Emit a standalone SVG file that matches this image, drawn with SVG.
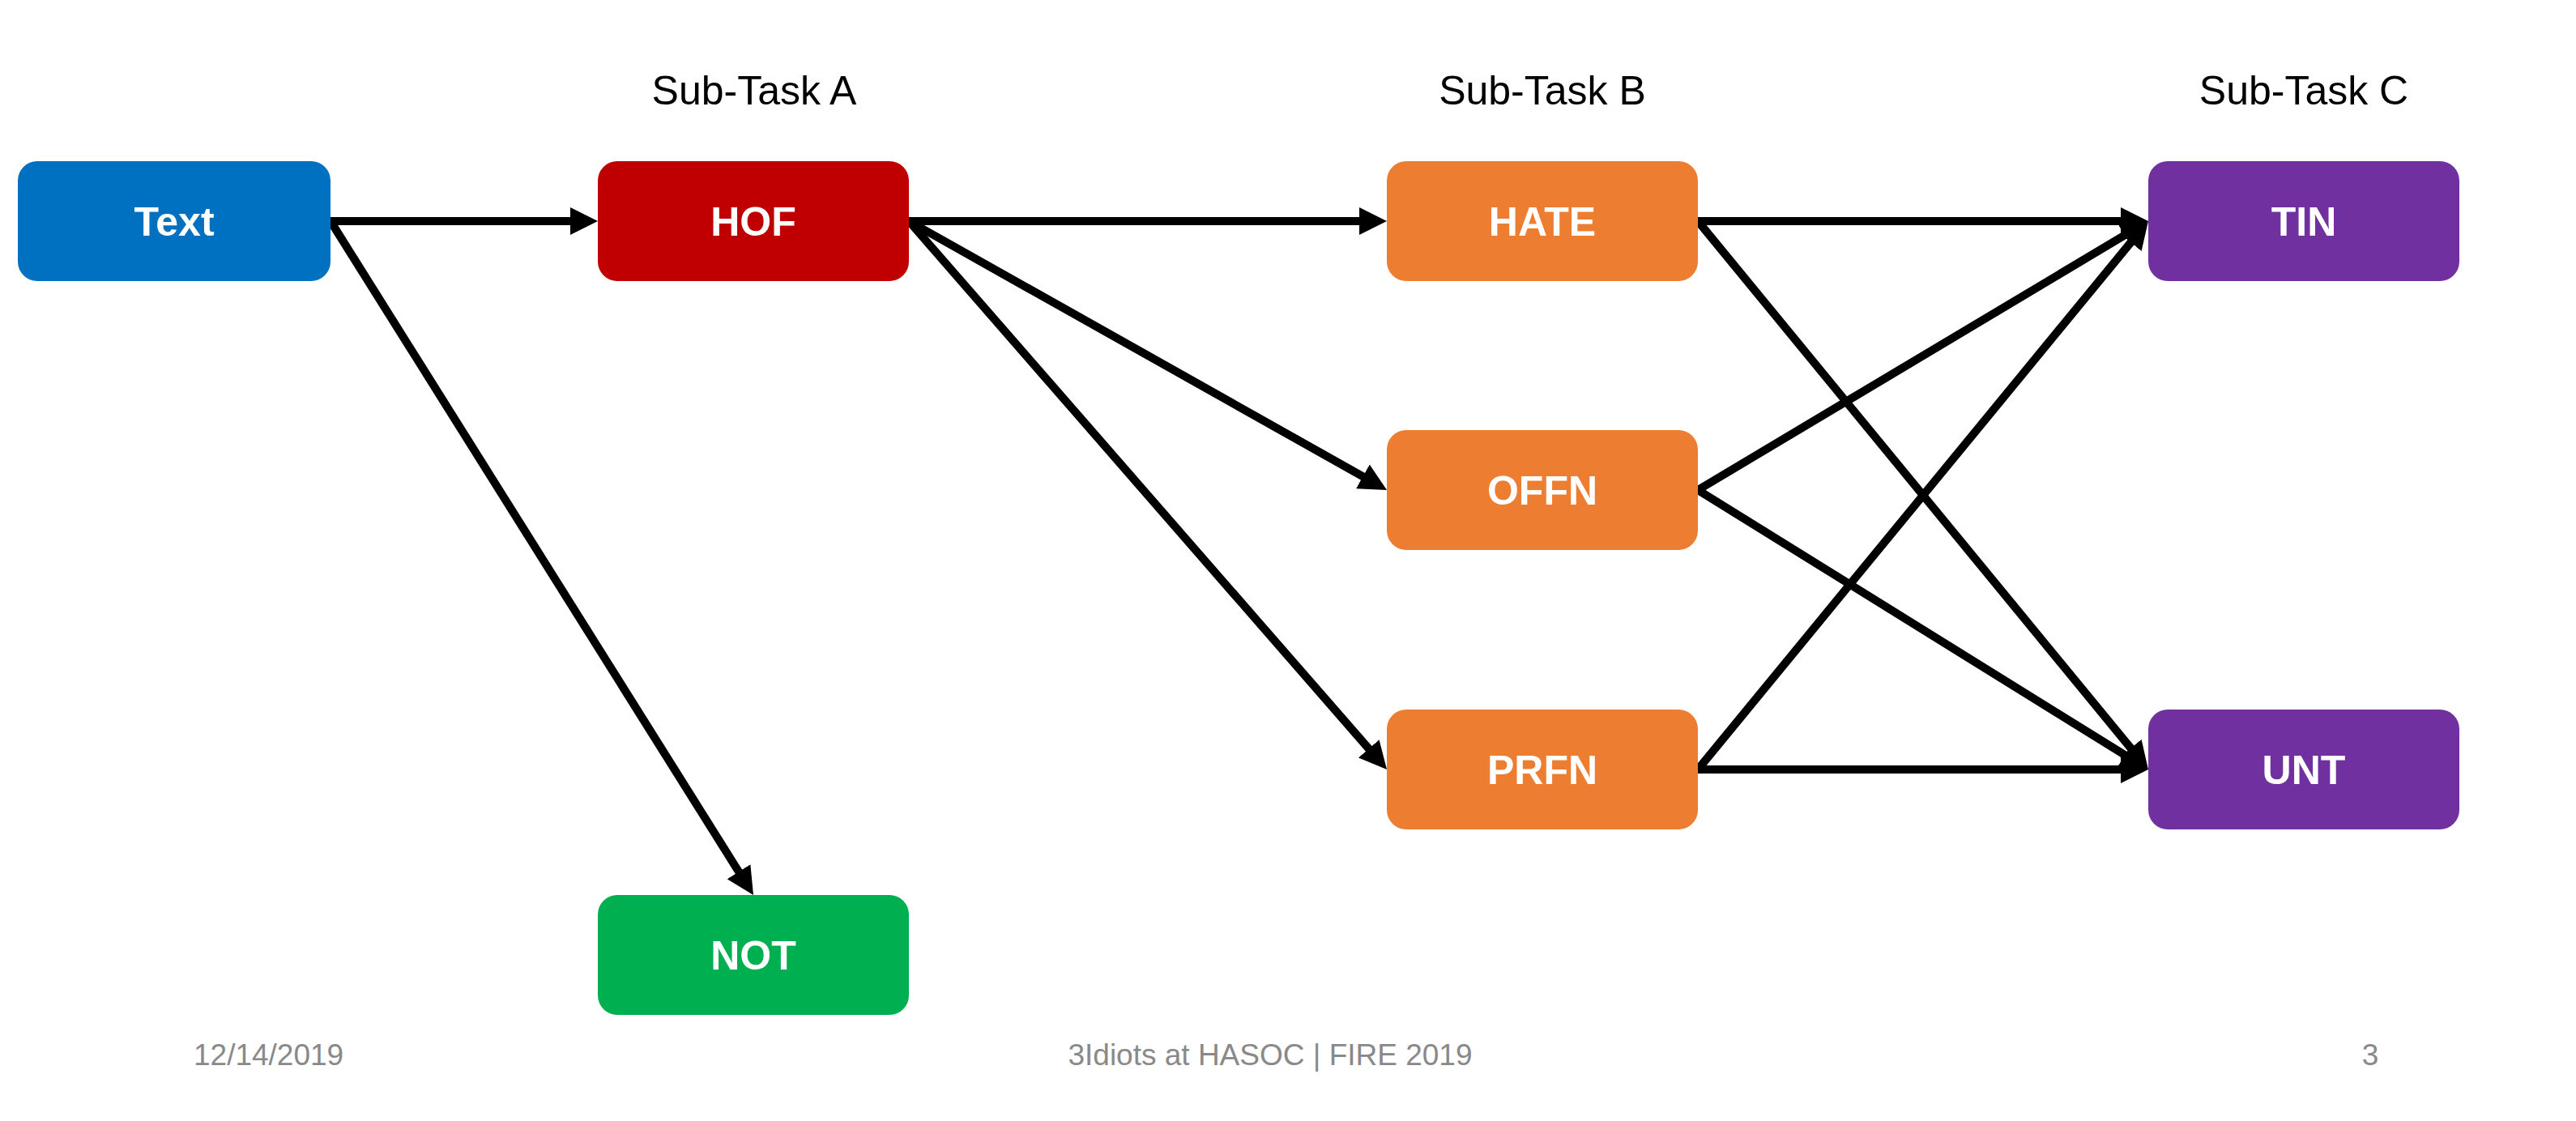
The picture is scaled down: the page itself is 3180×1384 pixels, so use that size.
<svg xmlns="http://www.w3.org/2000/svg" width="3180" height="1384" viewBox="0 0 3180 1384">
<style>
.node text{font-family:"Liberation Sans",Arial,sans-serif;font-weight:bold;font-size:50px;fill:#ffffff;text-anchor:middle}
.hdr{font-family:"Liberation Sans",Arial,sans-serif;font-size:50px;fill:#000000;text-anchor:middle}
.ftr{font-family:"Liberation Sans",Arial,sans-serif;font-size:37px;fill:#898989}
.conn line{stroke:#000000;stroke-width:10;fill:none;marker-end:url(#arr)}
</style>
<defs>
<marker id="arr" markerUnits="userSpaceOnUse" markerWidth="34" markerHeight="34" viewBox="0 0 34 34" refX="14" refY="17" orient="auto">
<path d="M0,0 L34,17 L0,34 z" fill="#000000"/>
</marker>
</defs>
<rect width="3180" height="1384" fill="#ffffff"/>
<text class="hdr" x="931" y="129">Sub-Task A</text>
<text class="hdr" x="1904" y="129">Sub-Task B</text>
<text class="hdr" x="2844" y="129">Sub-Task C</text>
<g class="conn" id="connectors">
<line x1="408" y1="273" x2="718" y2="273"/>
<line x1="408" y1="273" x2="919.4" y2="1088.1"/>
<line x1="1122" y1="273" x2="1692" y2="273"/>
<line x1="1122" y1="273" x2="1694.6" y2="595.2"/>
<line x1="1122" y1="273" x2="1698.9" y2="934.9"/>
<line x1="2096" y1="273" x2="2632" y2="273"/>
<line x1="2096" y1="273" x2="2639.3" y2="934.5"/>
<line x1="2096" y1="605" x2="2634.8" y2="283.3"/>
<line x1="2096" y1="605" x2="2635.0" y2="939.5"/>
<line x1="2096" y1="950" x2="2639.3" y2="288.5"/>
<line x1="2096" y1="950" x2="2632" y2="950"/>
</g>
<g class="node" id="node-text"><rect x="22" y="199" width="386" height="148" rx="24" fill="#0070C0"/><text x="215" y="291">Text</text></g>
<g class="node" id="node-hof"><rect x="738" y="199" width="384" height="148" rx="24" fill="#C00000"/><text x="930" y="291">HOF</text></g>
<g class="node" id="node-not"><rect x="738" y="1105" width="384" height="148" rx="24" fill="#00B050"/><text x="930" y="1197">NOT</text></g>
<g class="node" id="node-hate"><rect x="1712" y="199" width="384" height="148" rx="24" fill="#ED7D31"/><text x="1904" y="291">HATE</text></g>
<g class="node" id="node-offn"><rect x="1712" y="531" width="384" height="148" rx="24" fill="#ED7D31"/><text x="1904" y="623">OFFN</text></g>
<g class="node" id="node-prfn"><rect x="1712" y="876" width="384" height="148" rx="24" fill="#ED7D31"/><text x="1904" y="968">PRFN</text></g>
<g class="node" id="node-tin"><rect x="2652" y="199" width="384" height="148" rx="24" fill="#7030A0"/><text x="2844" y="291">TIN</text></g>
<g class="node" id="node-unt"><rect x="2652" y="876" width="384" height="148" rx="24" fill="#7030A0"/><text x="2844" y="968">UNT</text></g>
<text class="ftr" x="239" y="1315">12/14/2019</text>
<text class="ftr" x="1568" y="1315" text-anchor="middle">3Idiots at HASOC | FIRE 2019</text>
<text class="ftr" x="2926" y="1315" text-anchor="middle">3</text>
</svg>
